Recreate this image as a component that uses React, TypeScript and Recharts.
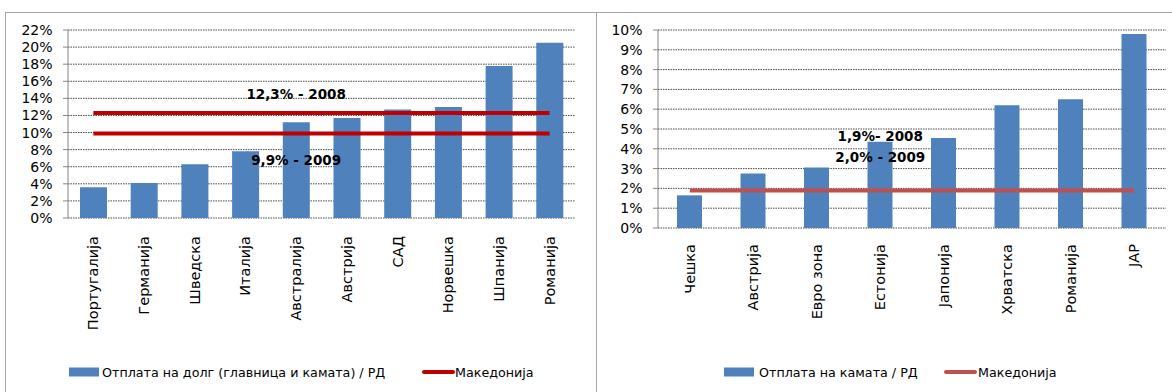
import { ComposedChart, Bar, Line, XAxis, YAxis, CartesianGrid, Legend, LabelList } from "recharts";

const FONT = "'DejaVu Sans', Verdana, sans-serif";
const AXIS = "#868686";
const BLUE = "#4F81BD";
const GRID = "#4a4a4a";

// Отплата на долг (главница и камата) / РД
const debtCountries = ["Португалија", "Германија", "Шведска", "Италија", "Австралија", "Австрија", "САД", "Норвешка", "Шпанија", "Романија"];
const debtShare = [3.6, 4.1, 6.3, 7.8, 11.2, 11.7, 12.7, 13.0, 17.8, 20.5];
const debtTicks = [0, 2, 4, 6, 8, 10, 12, 14, 16, 18, 20, 22];
const mkDebt2008 = 12.3;
const mkDebt2009 = 9.9;

// Отплата на камата / РД
const interestCountries = ["Чешка", "Австрија", "Евро зона", "Естонија", "Јапонија", "Хрватска", "Романија", "ЈАР"];
const interestShare = [1.65, 2.75, 3.05, 4.35, 4.55, 6.2, 6.5, 9.8];
const interestTicks = [0, 1, 2, 3, 4, 5, 6, 7, 8, 9, 10];
const mkInterest2008 = 1.9;
const mkInterest2009 = 2.0;

const pct = (v: number) => v.toFixed(1).replace(".", ",") + "%";

const debtRows = debtCountries.map((name, i) => ({ name, value: debtShare[i], mk08: mkDebt2008, mk09: mkDebt2009 }));
const interestRows = interestCountries.map((name, i) => ({ name, value: interestShare[i], mk08: mkInterest2008 }));

function CategoryTick({ x, y, payload, gap }: any) {
  return (
    <text
      transform={`translate(${x},${y + gap}) rotate(-90)`}
      textAnchor="end"
      dominantBaseline="central"
      fontSize={14.5}
      fontFamily={FONT}
      fill="#000"
    >
      {payload.value}
    </text>
  );
}

// legend drawn as one svg strip; positions are [icon x, text x] for the bar entry and the line entry
function makeLegend(width: number, barPos: number[], linePos: number[]) {
  return ({ payload }: any) => (
    <svg width={width} height={24} style={{ display: "block" }}>
      {(payload || [])
        .filter((e: any) => e.type !== "none")
        .map((e: any) => {
          const [ix, tx] = e.type === "rect" ? barPos : linePos;
          return (
            <g key={e.value}>
              {e.type === "rect" ? (
                <rect x={ix} y={7.5} width={30} height={9} fill={e.color} />
              ) : (
                <line x1={ix + 2} x2={ix + 31} y1={12} y2={12} stroke={e.color} strokeWidth={4} strokeLinecap="round" />
              )}
              <text x={tx} y={12} dominantBaseline="central" fontSize={12.7} fontFamily={FONT} fill="#000">
                {e.value}
              </text>
            </g>
          );
        })}
    </svg>
  );
}

const noteStyle = { fontSize: 13.5, fontWeight: 700, fontFamily: FONT, fill: "#000" } as const;

function DebtChart() {
  const n = debtCountries.length;
  return (
    <ComposedChart width={591} height={380} data={debtRows} margin={{ top: 18, right: 21, left: 0, bottom: 8 }}>
      <CartesianGrid xAxisId="cat" vertical={false} stroke={GRID} strokeDasharray="1.5 1" />
      <XAxis
        xAxisId="frame"
        type="number"
        domain={[0, n]}
        ticks={Array.from({ length: n + 1 }, (_, i) => i)}
        allowDataOverflow
        height={0}
        tick={false}
        tickSize={5}
        stroke={AXIS}
      />
      <XAxis
        xAxisId="cat"
        dataKey="name"
        height={142}
        interval={0}
        axisLine={false}
        tickLine={false}
        tickSize={0}
        tickMargin={0}
        tick={(p: any) => <CategoryTick {...p} gap={18} />}
      />
      <YAxis
        width={63}
        domain={[0, 22]}
        ticks={debtTicks}
        interval={0}
        tickFormatter={(v: number) => `${v}%`}
        tickSize={5}
        tickMargin={10.5}
        stroke={AXIS}
        tick={{ fontSize: 14, fontFamily: FONT, fill: "#000" }}
      />
      <Bar xAxisId="cat" dataKey="value" name="Отплата на долг (главница и камата) / РД" fill={BLUE} barSize={27} legendType="rect" isAnimationActive={false} />
      <Line xAxisId="cat" dataKey="mk08" name="Македонија" stroke="#C00000" strokeWidth={4} dot={false} activeDot={false} legendType="line" isAnimationActive={false}>
        <LabelList
          dataKey="mk08"
          content={(p: any) =>
            p.index === 4 ? (
              <text x={p.x} y={p.y - 19} textAnchor="middle" dominantBaseline="central" {...noteStyle}>
                {`${pct(p.value)} - 2008`}
              </text>
            ) : null
          }
        />
      </Line>
      <Line xAxisId="cat" dataKey="mk09" name="Македонија 2009" stroke="#C00000" strokeWidth={4} dot={false} activeDot={false} legendType="none" isAnimationActive={false}>
        <LabelList
          dataKey="mk09"
          content={(p: any) =>
            p.index === 4 ? (
              <text x={p.x} y={p.y + 27} textAnchor="middle" dominantBaseline="central" {...noteStyle}>
                {`${pct(p.value)} - 2009`}
              </text>
            ) : null
          }
        />
      </Line>
      <Legend
        content={makeLegend(591, [64, 97], [417, 450])}
        wrapperStyle={{ left: 0, width: 591, height: 24 }}
      />
    </ComposedChart>
  );
}

function InterestChart() {
  const n = interestCountries.length;
  return (
    <ComposedChart width={576} height={380} data={interestRows} margin={{ top: 18, right: 6, left: 0, bottom: 8 }}>
      <CartesianGrid xAxisId="cat" vertical={false} stroke={GRID} strokeDasharray="1.5 1" />
      <XAxis
        xAxisId="frame"
        type="number"
        domain={[0, n]}
        ticks={Array.from({ length: n + 1 }, (_, i) => i)}
        allowDataOverflow
        height={0}
        tick={false}
        tickSize={5}
        stroke={AXIS}
      />
      <XAxis
        xAxisId="cat"
        dataKey="name"
        height={132}
        interval={0}
        axisLine={false}
        tickLine={false}
        tickSize={0}
        tickMargin={0}
        tick={(p: any) => <CategoryTick {...p} gap={16} />}
      />
      <YAxis
        width={62}
        domain={[0, 10]}
        ticks={interestTicks}
        interval={0}
        tickFormatter={(v: number) => `${v}%`}
        tickSize={5}
        tickMargin={10.5}
        stroke={AXIS}
        tick={{ fontSize: 14, fontFamily: FONT, fill: "#000" }}
      />
      <Bar xAxisId="cat" dataKey="value" name="Отплата на камата / РД" fill={BLUE} barSize={25} legendType="rect" isAnimationActive={false} />
      <Line xAxisId="cat" dataKey="mk08" name="Македонија" stroke="#C0504D" strokeWidth={4} dot={false} activeDot={false} legendType="line" isAnimationActive={false}>
        <LabelList
          dataKey="mk08"
          content={(p: any) =>
            p.index === 3 ? (
              <g>
                <text x={p.x} y={p.y - 54} textAnchor="middle" dominantBaseline="central" {...noteStyle}>
                  {`${pct(p.value)}- 2008`}
                </text>
                <text x={p.x} y={p.y - 33} textAnchor="middle" dominantBaseline="central" {...noteStyle}>
                  {`${pct(mkInterest2009)} - 2009`}
                </text>
              </g>
            ) : null
          }
        />
      </Line>
      <Legend
        content={makeLegend(576, [128, 163], [348, 382])}
        wrapperStyle={{ left: 0, width: 576, height: 24 }}
      />
    </ComposedChart>
  );
}

export default function App() {
  return (
    <div style={{ position: "absolute", left: 0, top: 0, width: 1172, height: 392, background: "#fff", overflow: "hidden" }}>
      <div style={{ position: "absolute", left: 5, top: 12, width: 590, height: 390, borderLeft: "1px solid #a6a6a6", borderTop: "1px solid #a6a6a6" }} />
      <div style={{ position: "absolute", left: 596, top: 12, width: 580, height: 390, borderLeft: "1px solid #a6a6a6", borderTop: "1px solid #a6a6a6" }} />
      <div style={{ position: "absolute", left: 5, top: 12 }}>
        <DebtChart />
      </div>
      <div style={{ position: "absolute", left: 596, top: 12 }}>
        <InterestChart />
      </div>
    </div>
  );
}
